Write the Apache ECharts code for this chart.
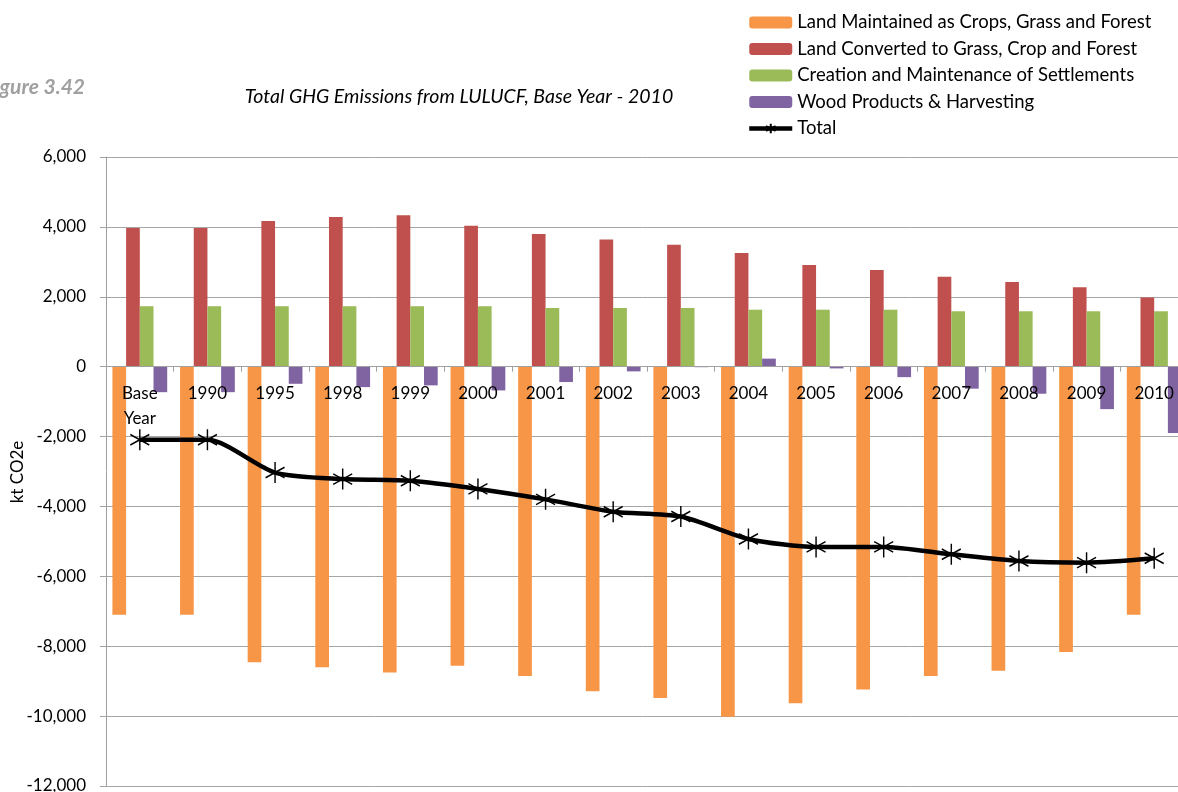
<!DOCTYPE html>
<html>
<head>
<meta charset="utf-8">
<script src="https://cdn.jsdelivr.net/npm/echarts@6/dist/echarts.min.js"></script>
<style>
html,body{margin:0;padding:0;background:#fff;}
#chart{width:1178px;height:792px;}
</style>
</head>
<body>
<div id="chart"></div>
<script>
var categories = ['Base\nYear','1990','1995','1998','1999','2000','2001','2002','2003','2004','2005','2006','2007','2008','2009','2010'];
var landMaintained = [-7100,-7100,-8460,-8605,-8750,-8560,-8855,-9290,-9480,-10020,-9635,-9240,-8855,-8700,-8165,-7100];
var landConverted = [3970,3970,4170,4280,4330,4030,3800,3640,3490,3250,2910,2765,2570,2425,2270,1980];
var settlements = [1730,1730,1730,1730,1730,1730,1680,1680,1680,1630,1630,1630,1585,1585,1585,1585];
var woodProducts = [-730,-730,-490,-585,-535,-680,-440,-135,-15,230,-50,-300,-630,-775,-1215,-1900];
var total = [-2090,-2090,-3030,-3217,-3266,-3498,-3797,-4150,-4290,-4930,-5158,-5158,-5368,-5560,-5608,-5483];
var yTicks = {min:-12000, max:6000, interval:2000};
var yAxisTitle = 'kt CO2e';

var FONT = 'Lato, "Open Sans", sans-serif';
var starPath = 'path://M0,-10L0,10M-8.66,-5L8.66,5M-8.66,5L8.66,-5';

var GRID_TOP = 157, GRID_H = 629;
var zeroOffset = -(GRID_H * (0 - yTicks.min) / (yTicks.max - yTicks.min));

var chart = echarts.init(document.getElementById('chart'), null, {renderer:'canvas'});
var barCommon = {type:'bar', barGap:'0%', barCategoryGap:'19%'};
chart.setOption({
  animation:false,
  textStyle:{fontFamily:FONT},
  grid:{left:106, top:GRID_TOP, width:1082, height:GRID_H, containLabel:false, outerBoundsMode:'none'},
  legend:{
    orient:'vertical', left:747, top:13, padding:0, itemWidth:43, itemHeight:12, itemGap:7.5, itemAlign:'left',
    textStyle:{fontFamily:FONT, fontSize:18.5, color:'#000'},
    data:['Land Maintained as Crops, Grass and Forest','Land Converted to Grass, Crop and Forest','Creation and Maintenance of Settlements','Wood Products & Harvesting',
      {name:'Total', lineStyle:{width:4.5, color:'#000'}}]
  },
  graphic:[
    {type:'text', x:85, y:87, style:{text:'Figure 3.42', align:'right', verticalAlign:'middle', font:'italic bold 21px ' + FONT, fill:'#a0a0a0'}},
    {type:'text', x:459, y:97, style:{text:'Total GHG Emissions from LULUCF, Base Year - 2010', align:'center', verticalAlign:'middle', font:'italic 19.5px ' + FONT, fill:'#000'}},
    {type:'text', x:18, y:472, rotation:Math.PI/2, style:{text:yAxisTitle, align:'center', verticalAlign:'middle', font:'17px ' + FONT, fill:'#000'}}
  ],
  xAxis:{
    type:'category', data:categories, z:10, position:'bottom', offset:zeroOffset,
    axisLine:{onZero:false, lineStyle:{color:'#a0a0a0', width:1}},
    axisTick:{show:true, inside:false, length:5, lineStyle:{color:'#a0a0a0'}},
    axisLabel:{color:'#000', fontSize:17, fontFamily:FONT, margin:14, lineHeight:25, interval:0, verticalAlign:'top'},
    splitLine:{show:false}
  },
  yAxis:{
    type:'value', min:yTicks.min, max:yTicks.max, interval:yTicks.interval,
    axisLine:{show:true, lineStyle:{color:'#a0a0a0', width:1}},
    axisTick:{show:true, length:6, lineStyle:{color:'#a0a0a0'}},
    axisLabel:{color:'#000', fontSize:17, fontFamily:FONT, margin:20,
      formatter:function(v){return echarts.format.addCommas(v);}},
    splitLine:{show:true, lineStyle:{color:'#a6a6a6', width:1}}
  },
  series:[
    Object.assign({name:'Land Maintained as Crops, Grass and Forest', data:landMaintained, itemStyle:{color:'#F79646'}}, barCommon),
    Object.assign({name:'Land Converted to Grass, Crop and Forest', data:landConverted, itemStyle:{color:'#C0504D'}}, barCommon),
    Object.assign({name:'Creation and Maintenance of Settlements', data:settlements, itemStyle:{color:'#9BBB59'}}, barCommon),
    Object.assign({name:'Wood Products & Harvesting', data:woodProducts, itemStyle:{color:'#8064A2'}}, barCommon),
    {name:'Total', type:'line', data:total, smooth:0.25, z:20,
     symbol:starPath, symbolSize:[19,21],
     lineStyle:{color:'#000', width:4.5},
     itemStyle:{color:'#000', borderColor:'#000', borderWidth:1.5}}
  ]
});
</script>
</body>
</html>
